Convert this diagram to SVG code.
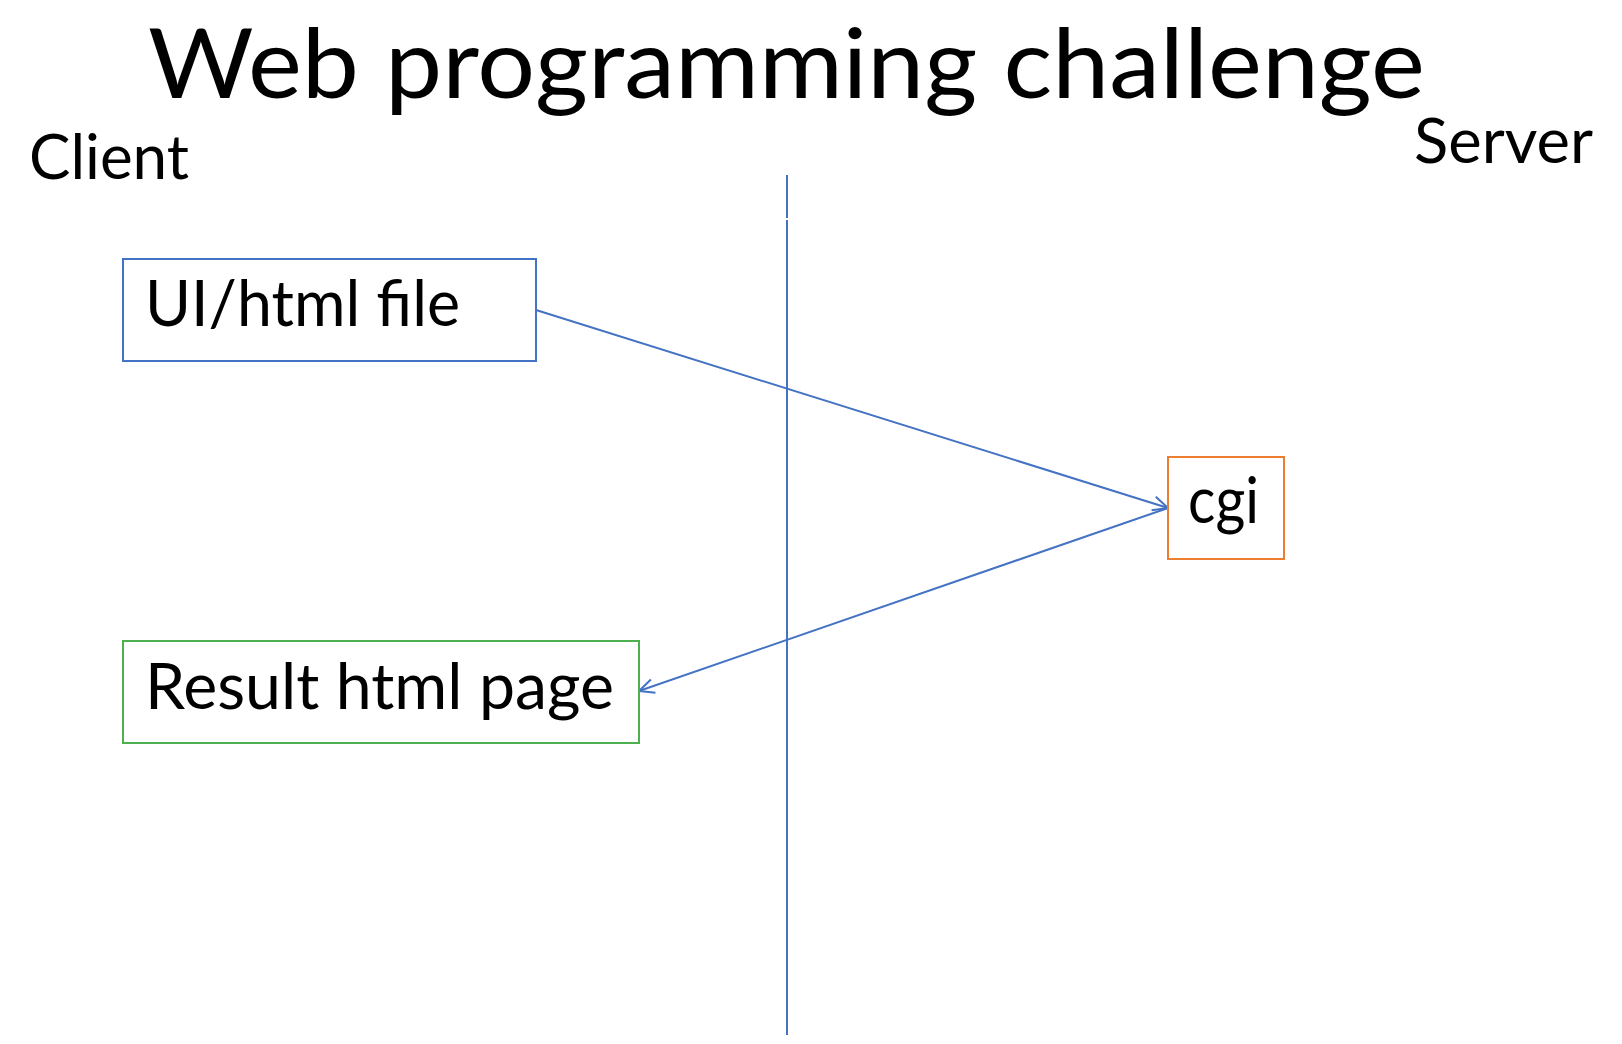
<svg xmlns="http://www.w3.org/2000/svg" width="1622" height="1044" viewBox="0 0 1622 1044">
<style>
text{font-family:Lato,"Open Sans","Liberation Sans",sans-serif;fill:#000}
.box{fill:#fff;stroke-width:2}
.conn{fill:none;stroke:#4472C4;stroke-width:2}
</style>
<defs>
<marker id="open" markerWidth="20" markerHeight="20" refX="16" refY="8" orient="auto" markerUnits="userSpaceOnUse" viewBox="0 0 20 16">
<path d="M1,1 L16,8 L1,15" fill="none" stroke="#4472C4" stroke-width="2"/>
</marker>
</defs>
<rect width="1622" height="1044" fill="#fff"/>
<g id="title"><text x="148" y="98" font-size="97" textLength="1277" lengthAdjust="spacingAndGlyphs">Web programming challenge</text></g>
<g id="client-label"><text x="29" y="179" font-size="62" textLength="160" lengthAdjust="spacingAndGlyphs">Client</text></g>
<g id="server-label"><text x="1414" y="163" font-size="62" textLength="179" lengthAdjust="spacingAndGlyphs">Server</text></g>
<g id="connectors">
<line class="conn" x1="787" y1="175" x2="787" y2="218"/>
<line class="conn" x1="787" y1="220" x2="787" y2="1035"/>
<line class="conn" x1="536" y1="310" x2="1168" y2="508" marker-end="url(#open)"/>
<line class="conn" x1="1168" y1="508" x2="639" y2="691" marker-end="url(#open)"/>
</g>
<g id="ui-html-file">
<rect class="box" x="123" y="259" width="413" height="102" stroke="#4472C4"/>
<text x="145" y="326" font-size="63" textLength="315" lengthAdjust="spacingAndGlyphs">UI/html file</text>
</g>
<g id="cgi">
<rect class="box" x="1168" y="457" width="116" height="102" stroke="#ED7D31"/>
<text x="1188" y="523" font-size="63" textLength="71" lengthAdjust="spacingAndGlyphs">cgi</text>
</g>
<g id="result-html-page">
<rect class="box" x="123" y="641" width="516" height="102" stroke="#4CAF50"/>
<text x="145" y="709" font-size="64" textLength="469" lengthAdjust="spacingAndGlyphs">Result html page</text>
</g>
</svg>
